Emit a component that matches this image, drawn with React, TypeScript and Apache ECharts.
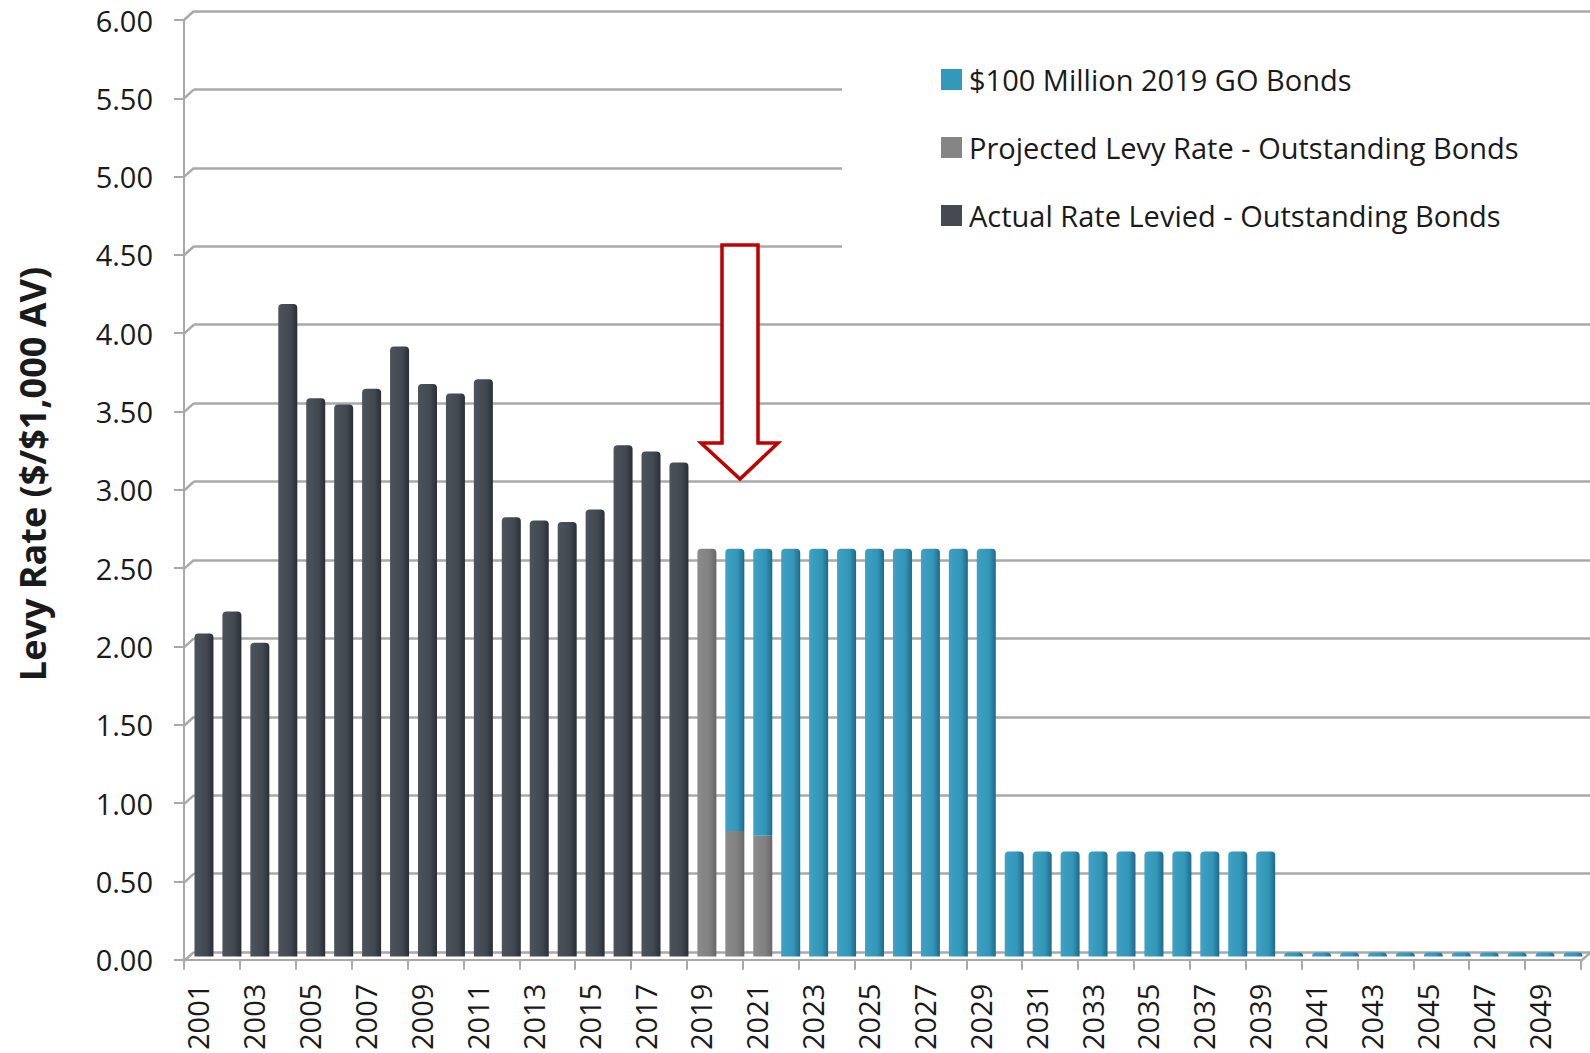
import React, { useEffect, useRef } from "react";
import * as echarts from "echarts";

const years = [
  "2001", "2002", "2003", "2004", "2005", "2006", "2007", "2008", "2009", "2010",
  "2011", "2012", "2013", "2014", "2015", "2016", "2017", "2018", "2019", "2020",
  "2021", "2022", "2023", "2024", "2025", "2026", "2027", "2028", "2029", "2030",
  "2031", "2032", "2033", "2034", "2035", "2036", "2037", "2038", "2039", "2040",
  "2041", "2042", "2043", "2044", "2045", "2046", "2047", "2048", "2049", "2050",
];

const actualRate = [
  2.06, 2.2, 2.0, 4.16, 3.56, 3.52, 3.62, 3.89, 3.65, 3.59,
  3.68, 2.8, 2.78, 2.77, 2.85, 3.26, 3.22, 3.15, null, null,
  null, null, null, null, null, null, null, null, null, null,
  null, null, null, null, null, null, null, null, null, null,
  null, null, null, null, null, null, null, null, null, null,
];

const projectedRate = [
  null, null, null, null, null, null, null, null, null, null,
  null, null, null, null, null, null, null, null, 2.6, 0.8,
  0.77, null, null, null, null, null, null, null, null, null,
  null, null, null, null, null, null, null, null, null, null,
  null, null, null, null, null, null, null, null, null, null,
];

const goBonds = [
  null, null, null, null, null, null, null, null, null, null,
  null, null, null, null, null, null, null, null, null, 1.8,
  1.83, 2.6, 2.6, 2.6, 2.6, 2.6, 2.6, 2.6, 2.6, 0.67,
  0.67, 0.67, 0.67, 0.67, 0.67, 0.67, 0.67, 0.67, 0.67, 0.025,
  0.025, 0.025, 0.025, 0.025, 0.025, 0.025, 0.025, 0.025, 0.025, 0.025,
];

const yTicks = [0, 0.5, 1, 1.5, 2, 2.5, 3, 3.5, 4, 4.5, 5, 5.5, 6];

const NAME_GO = "$100 Million 2019 GO Bonds";
const NAME_PROJ = "Projected Levy Rate - Outstanding Bonds";
const NAME_ACT = "Actual Rate Levied - Outstanding Bonds";

const FONT = "'Open Sans', 'DejaVu Sans', sans-serif";
const GRID_COLOR = "#a9a9a9";
const DEPTH_X = 10;
const DEPTH_Y = -9;

function grad(c0: string, c1: string, c2: string) {
  return new echarts.graphic.LinearGradient(0, 0, 1, 0, [
    { offset: 0, color: c0 },
    { offset: 0.65, color: c1 },
    { offset: 1, color: c2 },
  ]);
}

export default function App() {
  const ref = useRef<HTMLDivElement>(null);

  useEffect(() => {
    const chart = echarts.init(ref.current!, null, { renderer: "svg" });

    const frontGrid = { left: 184, right: 9, top: 20, bottom: 92 };
    const backGrid = { left: 194, right: -1, top: 11, bottom: 101 };
    const barGrid = { left: 190, right: 3, top: 15.5, bottom: 96.5 };

    const darkColor = grad("#4d535b", "#424850", "#2a2e34");
    const grayColor = grad("#8c8c8c", "#808080", "#666666");
    const tealColor = grad("#3ea2c4", "#3395b8", "#1d6a88");

    const option: any = {
      animation: false,
      backgroundColor: "#ffffff",
      textStyle: { fontFamily: FONT },
      grid: [
        { ...frontGrid, containLabel: false },
        { ...backGrid, containLabel: false },
        { ...barGrid, containLabel: false },
        { ...frontGrid, containLabel: false },
      ],
      legend: {
        orient: "vertical",
        left: 842,
        top: 40,
        padding: [25, 90, 50, 99],
        backgroundColor: "#ffffff",
        itemWidth: 21,
        itemHeight: 21,
        itemGap: 39,
        icon: "rect",
        selectedMode: false,
        textStyle: {
          fontFamily: FONT,
          fontSize: 29,
          lineHeight: 29,
          color: "#1a1a1a",
          padding: [0, 0, 0, 2],
        },
        data: [
          { name: NAME_GO, itemStyle: { color: "#3399bb" } },
          { name: NAME_PROJ, itemStyle: { color: "#858585" } },
          { name: NAME_ACT, itemStyle: { color: "#454a52" } },
        ],
      },
      xAxis: [
        {
          type: "category",
          gridIndex: 0,
          data: years,
          boundaryGap: true,
          axisLine: { show: true, lineStyle: { color: GRID_COLOR, width: 2 } },
          axisTick: {
            show: true,
            interval: 1,
            length: 10,
            lineStyle: { color: GRID_COLOR, width: 2 },
          },
          axisLabel: {
            interval: 1,
            rotate: 90,
            fontSize: 29,
            margin: 24,
            color: "#1a1a1a",
            fontFamily: FONT,
          },
          splitLine: { show: false },
        },
        { type: "category", gridIndex: 1, data: years, show: false },
        { type: "category", gridIndex: 2, data: years, show: false },
        { type: "value", gridIndex: 3, min: 0, max: 1, show: false },
      ],
      yAxis: [
        {
          type: "value",
          gridIndex: 0,
          min: 0,
          max: 6,
          interval: 0.5,
          axisLine: { show: true, lineStyle: { color: GRID_COLOR, width: 2 } },
          axisTick: { show: true, length: 10, lineStyle: { color: GRID_COLOR, width: 2 } },
          axisLabel: {
            fontSize: 29,
            margin: 31,
            color: "#1a1a1a",
            fontFamily: FONT,
            formatter: (v: number) => v.toFixed(2),
          },
          splitLine: { show: false },
        },
        {
          type: "value",
          gridIndex: 1,
          min: 0,
          max: 6,
          interval: 0.5,
          axisLine: { show: false },
          axisTick: { show: false },
          axisLabel: { show: false },
          splitLine: { show: true, lineStyle: { color: GRID_COLOR, width: 2.5 } },
        },
        { type: "value", gridIndex: 2, min: 0, max: 6, interval: 0.5, show: false },
        { type: "value", gridIndex: 3, min: 0, max: 6, interval: 0.5, show: false },
      ],
      graphic: [
        {
          type: "text",
          x: 32,
          y: 474,
          rotation: Math.PI / 2,
          style: {
            text: "Levy Rate ($/$1,000 AV)",
            fontFamily: FONT,
            fontSize: 36,
            fontWeight: "bold",
            fill: "#1a1a1a",
            align: "center",
            verticalAlign: "middle",
          },
        },
        {
          type: "polygon",
          z: 100,
          shape: {
            points: [
              [722, 245],
              [758, 245],
              [758, 443],
              [778, 443],
              [740, 479],
              [701, 443],
              [722, 443],
            ],
          },
          style: { fill: "#ffffff", stroke: "#c00000", lineWidth: 3.5 },
        },
      ],
      series: [
        {
          name: "depth",
          type: "custom",
          xAxisIndex: 3,
          yAxisIndex: 3,
          silent: true,
          clip: false,
          z: 1,
          data: [...yTicks.map((v) => [0, v]), [1, 0]],
          renderItem: (params: any, api: any) => {
            const p = api.coord([api.value(0), api.value(1)]);
            return {
              type: "line",
              shape: { x1: p[0], y1: p[1], x2: p[0] + DEPTH_X, y2: p[1] + DEPTH_Y },
              style: { stroke: GRID_COLOR, lineWidth: 2.5 },
            };
          },
        },
        {
          name: NAME_ACT,
          type: "bar",
          stack: "levy",
          xAxisIndex: 2,
          yAxisIndex: 2,
          barWidth: 19,
          z: 3,
          itemStyle: { color: darkColor, borderRadius: [4, 4, 0, 0] },
          data: actualRate,
        },
        {
          name: NAME_PROJ,
          type: "bar",
          stack: "levy",
          xAxisIndex: 2,
          yAxisIndex: 2,
          barWidth: 19,
          z: 3,
          itemStyle: { color: grayColor },
          data: projectedRate.map((v, i) =>
            v == null
              ? null
              : {
                  value: v,
                  itemStyle: {
                    borderRadius: goBonds[i] == null ? [4, 4, 0, 0] : 0,
                  },
                }
          ),
        },
        {
          name: NAME_GO,
          type: "bar",
          stack: "levy",
          xAxisIndex: 2,
          yAxisIndex: 2,
          barWidth: 19,
          z: 3,
          itemStyle: { color: tealColor, borderRadius: [4, 4, 0, 0] },
          data: goBonds,
        },
      ],
    };

    chart.setOption(option);
    return () => chart.dispose();
  }, []);

  return (
    <div
      ref={ref}
      style={{ position: "fixed", left: 0, top: 0, width: 1590, height: 1053 }}
    />
  );
}
